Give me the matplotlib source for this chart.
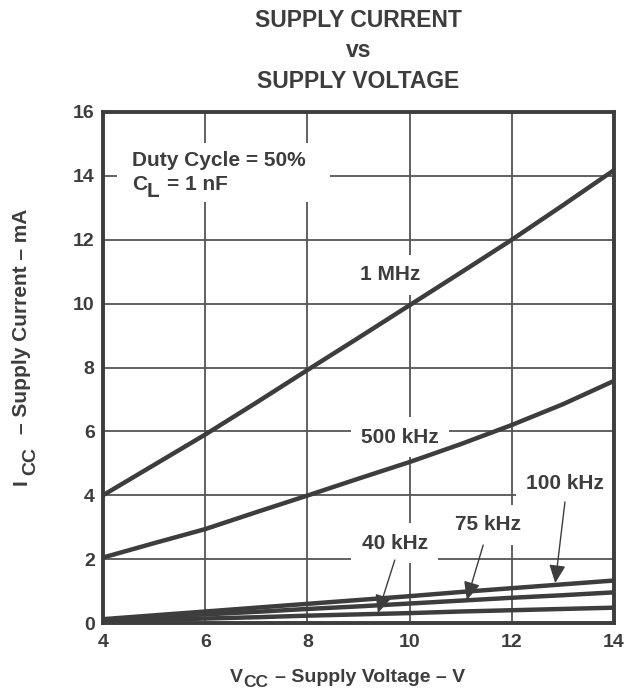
import matplotlib
matplotlib.use("Agg")
import matplotlib.pyplot as plt
from matplotlib.transforms import IdentityTransform
from matplotlib.patches import Rectangle

plt.rcParams['font.family'] = ['Liberation Sans', 'DejaVu Sans']
plt.rcParams['font.weight'] = 'bold'

# Data
vcc = [4, 5, 6, 7, 8, 9, 10, 11, 12, 13, 14]
i_1mhz = [4.0, 4.95, 5.9, 6.9, 7.92, 8.93, 9.95, 10.97, 12.0, 13.08, 14.18]
i_500khz = [2.05, 2.5, 2.94, 3.47, 3.99, 4.52, 5.04, 5.6, 6.2, 6.85, 7.58]
i_100khz = [0.12, 0.24, 0.36, 0.48, 0.6, 0.72, 0.84, 0.97, 1.09, 1.21, 1.33]
i_75khz = [0.1, 0.18, 0.27, 0.35, 0.44, 0.52, 0.61, 0.70, 0.79, 0.87, 0.96]
i_40khz = [0.06, 0.10, 0.14, 0.18, 0.23, 0.27, 0.31, 0.36, 0.40, 0.44, 0.48]

xticks = [4, 6, 8, 10, 12, 14]
yticks = [0, 2, 4, 6, 8, 10, 12, 14, 16]

C = '#3d3d3d'
W, H = 628, 698

fig = plt.figure(figsize=(W/100, H/100), dpi=100)
ax = fig.add_axes([103/W, 1-623/H, (614-103)/W, (623-112)/H])

ax.set_xlim(4, 14)
ax.set_ylim(0, 16)
ax.set_xticks(xticks)
ax.set_yticks(yticks)
ax.tick_params(length=0, labelsize=14, colors=C)
ax.tick_params(axis='y', pad=6)
ax.tick_params(axis='x', pad=8)
for lab in ax.get_xticklabels() + ax.get_yticklabels():
    lab.set_fontweight('bold')
ax.grid(True, color='#555555', lw=1.3, zorder=0)
ax.set_axisbelow(True)
for s in ax.spines.values():
    s.set_linewidth(2.8)
    s.set_color(C)
    s.set_zorder(5)

for ys in [i_1mhz, i_500khz, i_100khz, i_75khz, i_40khz]:
    ax.plot(vcc, ys, color=C, lw=3.2, zorder=4, solid_capstyle='butt')

box = dict(boxstyle='square,pad=0.5', fc='white', ec='none')
tk = dict(fontsize=15, fontweight='bold', color=C, ha='center', va='center', zorder=3, bbox=box)
ax.text(9.62, 10.9, '1 MHz', **tk)
ax.text(9.81, 5.82, '500 kHz', **tk)
ax.text(13.04, 4.38, '100 kHz', **tk)
ax.text(11.53, 3.07, '75 kHz', **tk)
ax.text(9.71, 2.5, '40 kHz', **tk)

# white area behind the conditions note
ax.add_patch(Rectangle((4.27, 13.18), 4.17, 1.85, fc='white', ec='none', zorder=2))

arrows = [((9.38, 0.31), (9.71, 1.97)),
          ((11.12, 0.72), (11.44, 2.44)),
          ((12.85, 1.25), (13.04, 3.79))]
for tip, start in arrows:
    ax.annotate('', xy=tip, xytext=start,
                arrowprops=dict(arrowstyle='-|>,head_length=1.1,head_width=0.5',
                                color=C, lw=1.0, shrinkA=0, shrinkB=0), zorder=6)

renderer = fig.canvas.get_renderer()


def seq(x, y, pieces, rot=0):
    """pieces: (text, fontsize, perpendicular offset px (down), gap px before)"""
    pos = 0.0
    for s, fs, off, gap in pieces:
        pos += gap
        if rot:
            px, py = x + off, y + pos
        else:
            px, py = x + pos, y - off
        t = fig.text(px, py, s, transform=IdentityTransform(), fontsize=fs,
                     fontweight='bold', color=C, ha='left', va='baseline',
                     rotation=rot, rotation_mode='anchor')
        bb = t.get_window_extent(renderer)
        pos += bb.height if rot else bb.width


# axis labels
seq(230, H - 682, [('V', 14, 0, 0), ('CC', 12.5, 5, 0), ('– Supply Voltage – V', 14, 0, 7)])
seq(27, H - 485, [('I', 15, 0, 0), ('CC', 14, 8, 4), ('– Supply Current – mA', 15, 0, 13)], rot=90)

# conditions note
fig.text(132, H - 166, 'Duty Cycle = 50%', transform=IdentityTransform(), fontsize=15,
         fontweight='bold', color=C, ha='left', va='baseline')
seq(132, H - 190, [('C', 15, 0, 0), ('L', 15, 7, 0), ('= 1 nF', 15, 0, 7)])

# title
xc = (103 + 614) / 2
for t, yp in [('SUPPLY CURRENT', 26.7), ('vs', 57), ('SUPPLY VOLTAGE', 88)]:
    fig.text(xc, H - yp, t, transform=IdentityTransform(), fontsize=16.5,
             fontweight='bold', color=C, ha='center', va='baseline')

fig.savefig('out.png', dpi=100)
